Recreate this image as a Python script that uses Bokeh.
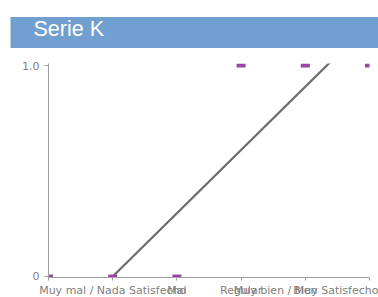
import numpy as np
from bokeh.plotting import figure
from bokeh.models import Range1d, FixedTicker, Title
from bokeh.embed import file_html
from bokeh.resources import INLINE

# ---- data ----
title_text = "Serie K"
x_labels = ["", "Muy mal / Nada Satisfecho", "Mal", "Regular", "Bien", "Muy bien / Muy Satisfecho"]
x_pos = [0, 1, 2, 3, 4, 5]
values = [0, 0, 0, 1, 1, 1]
y_ticks = [0, 1]
y_tick_labels = ["0", "1.0"]

# trend line: least squares over points 1..5
tx = np.array(x_pos[1:], dtype=float)
ty = np.array(values[1:], dtype=float)
slope, intercept = np.polyfit(tx, ty, 1)
trend_x = [tx[0], tx[-1]]
trend_y = [slope * tx[0] + intercept, slope * tx[-1] + intercept]

p = figure(width=378, height=297, output_backend="svg", toolbar_location=None,
           x_range=Range1d(0, 5), y_range=Range1d(-0.005, 1.01),
           frame_width=321, frame_height=214,
           min_border_left=48, min_border_top=63, min_border_right=9, min_border_bottom=20)
p.outline_line_color = None
p.xgrid.visible = False
p.ygrid.visible = False
p.background_fill_color = "white"
p.border_fill_color = "white"

# padding order is (left, right, top, bottom)
p.title = Title(text=title_text, align="left", offset=-38, standoff=27,
                vertical_align="top",
                text_font="Liberation Sans", text_font_size="21.5px",
                text_font_style="normal", text_color="white",
                background_fill_color="#719fd0", padding=(23, 275, 0, 7))

p.line(trend_x, trend_y, line_color="#6b6b6b", line_width=2.2)
p.rect(x_pos, values, width=9, height=4, width_units="screen", height_units="screen",
       fill_color="#9b46a6", line_color=None)

for ax in (p.xaxis[0], p.yaxis[0]):
    ax.axis_line_color = "#a0a0a0"
    ax.major_tick_line_color = "#a0a0a0"
    ax.minor_tick_line_color = None
    ax.major_label_text_font = "DejaVu Sans"
    ax.major_label_text_font_size = "11px"
    ax.major_label_text_color = "#808080"
    ax.major_tick_in = 0

p.xaxis.ticker = FixedTicker(ticks=x_pos)
p.xaxis.major_label_overrides = {x: lab for x, lab in zip(x_pos, x_labels)}
p.xaxis.major_tick_out = 3
p.xaxis.major_label_standoff = 3

p.yaxis.ticker = FixedTicker(ticks=y_ticks)
p.yaxis.major_label_overrides = {t_: lab for t_, lab in zip(y_ticks, y_tick_labels)}
p.yaxis.major_tick_out = 4
p.yaxis.major_label_standoff = 5

open("out.html", "w").write(file_html(p, INLINE))
